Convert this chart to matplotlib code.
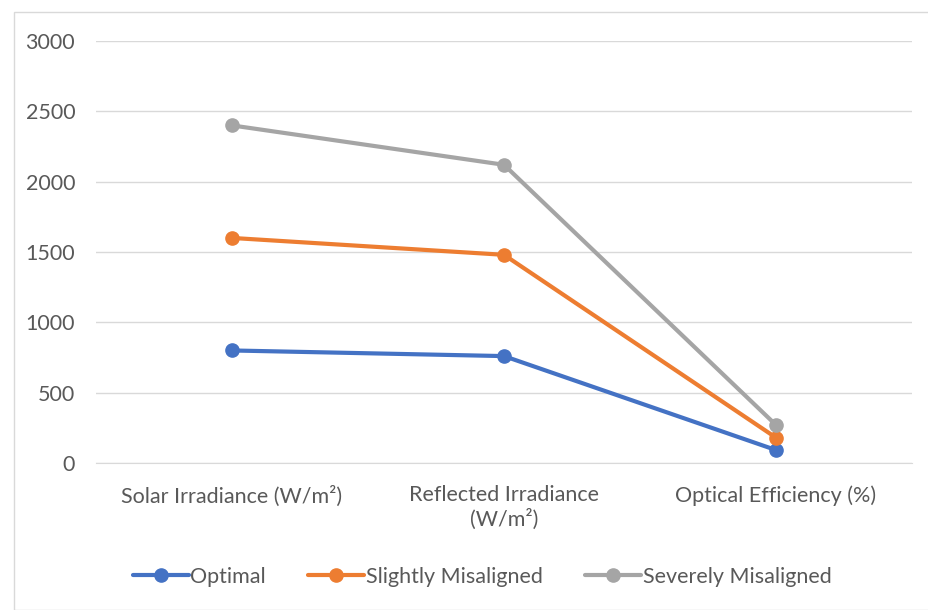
import matplotlib.pyplot as plt
import matplotlib.patches as mpatches

plt.rcParams['font.family'] = ['Lato', 'DejaVu Sans']

categories = ['Solar Irradiance (W/m²)', 'Reflected Irradiance\n(W/m²)', 'Optical Efficiency (%)']
optimal = [800, 760, 92]
slightly = [1600, 1480, 180]
severely = [2400, 2120, 270]

series = [
    ('Optimal', optimal, '#4472C4'),
    ('Slightly Misaligned', slightly, '#ED7D31'),
    ('Severely Misaligned', severely, '#A5A5A5'),
]

fig = plt.figure(figsize=(9.29, 6.10), dpi=100)
ax = fig.add_axes([96 / 929, 1 - 463 / 610, 816 / 929, 422 / 610])

x = range(len(categories))
for name, vals, col in series:
    ax.plot(x, vals, color=col, lw=3, marker='o', ms=9.5, label=name,
            solid_capstyle='round', zorder=3)

ax.set_xlim(-0.5, 2.5)
ax.set_ylim(0, 3000)
ax.set_yticks(range(0, 3001, 500))
ax.set_xticks(list(x))
ax.set_xticklabels(categories)
ax.grid(axis='y', color='#D9D9D9', lw=1)
ax.set_axisbelow(True)
for s in ['top', 'right', 'left']:
    ax.spines[s].set_visible(False)
ax.spines['bottom'].set_color('#D9D9D9')
ax.tick_params(length=0, labelsize=15.5, colors='#595959')
ax.tick_params(axis='y', pad=15)
ax.tick_params(axis='x', pad=16)

fig.legend(loc='center', bbox_to_anchor=(482 / 929, 1 - 577 / 610), ncol=3,
           frameon=False, fontsize=15.5, labelcolor='#595959',
           handlelength=2.6, handletextpad=0.05, columnspacing=2.0)

# light chart border
fig.patches.append(mpatches.Rectangle((14 / 929, 0), 1, 1 - 12 / 610, transform=fig.transFigure,
                                      fill=False, edgecolor='#D9D9D9', lw=1))

fig.savefig('out.png', dpi=100)
